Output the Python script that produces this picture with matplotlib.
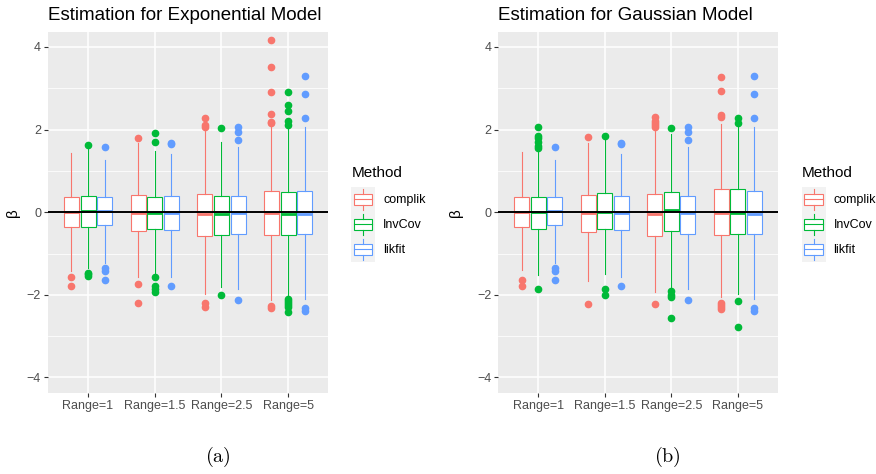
import matplotlib.pyplot as plt
from matplotlib.legend_handler import HandlerBase
from matplotlib.patches import Rectangle
from matplotlib.lines import Line2D

# Simulated beta estimates summarised as boxplot statistics
ranges = ['Range=1', 'Range=1.5', 'Range=2.5', 'Range=5']
methods = ['complik', 'InvCov', 'likfit']
colors = {'complik': '#F8766D', 'InvCov': '#00BA38', 'likfit': '#619CFF'}

# Exponential model
exp_q1 = {'complik': [-0.36, -0.45, -0.58, -0.56],
          'InvCov': [-0.37, -0.41, -0.56, -0.56],
          'likfit': [-0.32, -0.44, -0.53, -0.53]}
exp_med = {'complik': [0.0, -0.03, -0.05, -0.03],
           'InvCov': [0.02, -0.02, -0.04, -0.04],
           'likfit': [0.02, -0.03, -0.03, -0.05]}
exp_q3 = {'complik': [0.37, 0.42, 0.45, 0.52],
          'InvCov': [0.40, 0.37, 0.39, 0.49],
          'likfit': [0.36, 0.39, 0.39, 0.52]}
exp_wlo = {'complik': [-1.43, -1.58, -1.97, -2.13],
           'InvCov': [-1.36, -1.50, -1.82, -2.05],
           'likfit': [-1.24, -1.57, -1.85, -2.11]}
exp_whi = {'complik': [1.44, 1.68, 1.97, 2.07],
           'InvCov': [1.52, 1.48, 1.70, 2.05],
           'likfit': [1.26, 1.40, 1.58, 2.07]}
exp_out = {'complik': [[-1.58, -1.79], [1.80, -1.73, -2.21],
                       [2.07, 2.12, 2.28, -2.20, -2.30],
                       [2.15, 2.18, 2.37, 2.92, 3.52, 4.17, -2.28, -2.33]],
           'InvCov': [[1.62, -1.46, -1.50, -1.55],
                      [1.69, 1.92, -1.58, -1.78, -1.85, -1.93],
                      [2.03, -2.00],
                      [2.10, 2.20, 2.45, 2.60, 2.90,
                       -2.10, -2.15, -2.20, -2.25, -2.30, -2.42]],
           'likfit': [[1.57, -1.36, -1.42, -1.65], [1.65, 1.68, -1.79],
                      [1.76, 1.93, 2.07, -2.13],
                      [2.27, 2.87, 3.30, -2.33, -2.38]]}

# Gaussian model
gau_q1 = {'complik': [-0.36, -0.48, -0.57, -0.56],
          'InvCov': [-0.40, -0.41, -0.45, -0.52],
          'likfit': [-0.32, -0.44, -0.53, -0.53]}
gau_med = {'complik': [0.0, -0.03, -0.05, -0.03],
           'InvCov': [0.0, 0.0, 0.05, -0.01],
           'likfit': [0.02, -0.03, -0.03, -0.05]}
gau_q3 = {'complik': [0.37, 0.42, 0.45, 0.55],
          'InvCov': [0.37, 0.47, 0.49, 0.55],
          'likfit': [0.36, 0.39, 0.39, 0.52]}
gau_wlo = {'complik': [-1.40, -1.67, -1.93, -2.05],
           'InvCov': [-1.53, -1.50, -1.83, -1.97],
           'likfit': [-1.24, -1.57, -1.85, -2.11]}
gau_whi = {'complik': [1.45, 1.68, 1.98, 2.13],
           'InvCov': [1.52, 1.80, 1.90, 2.10],
           'likfit': [1.26, 1.40, 1.58, 2.07]}
gau_out = {'complik': [[-1.63, -1.79], [1.83, -2.22],
                       [2.07, 2.12, 2.17, 2.22, 2.30, -2.22],
                       [2.30, 2.35, 2.93, 3.28, -2.20, -2.25, -2.30, -2.35]],
           'InvCov': [[1.55, 1.60, 1.70, 1.80, 1.85, 2.06, -1.87],
                      [1.85, -1.85, -2.00],
                      [2.05, -1.90, -2.00, -2.05, -2.57],
                      [2.15, 2.28, -2.15, -2.78]],
           'likfit': [[1.57, -1.36, -1.42, -1.65], [1.65, 1.68, -1.79],
                      [1.76, 1.93, 2.07, -2.13],
                      [2.27, 2.87, 3.30, -2.33, -2.38]]}


class BoxKey(HandlerBase):
    # ggplot-style legend key: grey cell with a tiny boxplot
    def create_artists(self, legend, orig_handle, xdescent, ydescent,
                       width, height, fontsize, trans):
        c = orig_handle.get_color()
        x0, y0 = -xdescent, -ydescent
        bg = Rectangle((x0, y0), width, height, facecolor='#F2F2F2',
                       edgecolor='none', transform=trans)
        box = Rectangle((x0 + 0.12 * width, y0 + 0.27 * height), 0.76 * width,
                        0.46 * height, facecolor='white', edgecolor=c,
                        lw=0.8, transform=trans)
        xm = x0 + width / 2
        med = Line2D([x0 + 0.12 * width, x0 + 0.88 * width],
                     [y0 + height / 2] * 2, color=c, lw=0.8, transform=trans)
        w1 = Line2D([xm, xm], [y0 + 0.08 * height, y0 + 0.27 * height],
                    color=c, lw=0.8, transform=trans)
        w2 = Line2D([xm, xm], [y0 + 0.73 * height, y0 + 0.92 * height],
                    color=c, lw=0.8, transform=trans)
        return [bg, box, med, w1, w2]


plt.rcParams['font.family'] = ['Liberation Sans', 'DejaVu Sans']
plt.rcParams['mathtext.fontset'] = 'cm'

fig = plt.figure(figsize=(8.76, 4.74), dpi=100)
ax_bottom = 1 - 392.7 / 474
ax_h = (392.7 - 31.7) / 474
ax1 = fig.add_axes([48 / 876, ax_bottom, 280 / 876, ax_h])
ax2 = fig.add_axes([498.3 / 876, ax_bottom, 279.4 / 876, ax_h])

panels = [
    (ax1, 'Estimation for Exponential Model',
     exp_q1, exp_med, exp_q3, exp_wlo, exp_whi, exp_out, 0.401, -0.1, '(a)', 218),
    (ax2, 'Estimation for Gaussian Model',
     gau_q1, gau_med, gau_q3, gau_wlo, gau_whi, gau_out, 0.915, -0.126, '(b)', 667),
]

offsets = [-0.25, 0.0, 0.25]

for ax, title, q1, med, q3, wlo, whi, out, leg_x, ylab_x, cap, cap_x in panels:
    ax.set_facecolor('#EBEBEB')
    for s in ax.spines.values():
        s.set_visible(False)
    ax.set_axisbelow(True)

    for m, off in zip(methods, offsets):
        c = colors[m]
        stats = []
        for i in range(len(ranges)):
            stats.append({'med': med[m][i], 'q1': q1[m][i], 'q3': q3[m][i],
                          'whislo': wlo[m][i], 'whishi': whi[m][i],
                          'fliers': out[m][i]})
        pos = [i + 1 + off for i in range(len(ranges))]
        ax.bxp(stats, positions=pos, widths=0.225, showcaps=False,
               patch_artist=True, manage_ticks=False,
               boxprops=dict(facecolor='white', edgecolor=c, lw=0.8),
               whiskerprops=dict(color=c, lw=0.8),
               medianprops=dict(color=c, lw=2.0, solid_capstyle='butt'),
               flierprops=dict(marker='o', markerfacecolor=c,
                               markeredgecolor=c, markersize=4.5))

    ax.axhline(0, color='black', lw=1.4, zorder=5)

    ax.set_xlim(0.4, 4.6)
    ax.set_ylim(-4.37, 4.37)
    ax.set_xticks(range(1, len(ranges) + 1))
    ax.set_xticklabels(ranges)
    ax.set_yticks([-4, -2, 0, 2, 4])
    ax.set_yticks([-3, -1, 1, 3], minor=True)
    ax.grid(True, which='major', color='white', lw=1.1)
    ax.grid(True, which='minor', axis='y', color='white', lw=0.55)
    ax.tick_params(which='major', length=3, width=0.8, color='#333333',
                   labelcolor='#4D4D4D', labelsize=9, pad=2)
    ax.tick_params(which='minor', length=0)

    ax.set_title(title, loc='left', fontsize=13.5, pad=8.5)
    ax.set_ylabel('β', fontsize=11)
    ax.yaxis.set_label_coords(ylab_x, 0.5)

    handles = [Line2D([], [], color=colors[m]) for m in methods]
    leg = ax.legend(handles, methods, title='Method', title_fontsize=11,
                    fontsize=9, loc='upper left', bbox_to_anchor=(leg_x, 0.650),
                    bbox_transform=fig.transFigure, frameon=False,
                    borderpad=0, borderaxespad=0, labelspacing=0,
                    handlelength=1.92, handleheight=2.7, handletextpad=0.64,
                    alignment='left', handler_map={Line2D: BoxKey()})
    leg._legend_box.sep = 5

    fig.text(cap_x / 876, 1 - 457 / 474, r'$\mathrm{' + cap + '}$',
             fontsize=14.5, ha='center', va='center')

fig.savefig('out.png', dpi=100)
